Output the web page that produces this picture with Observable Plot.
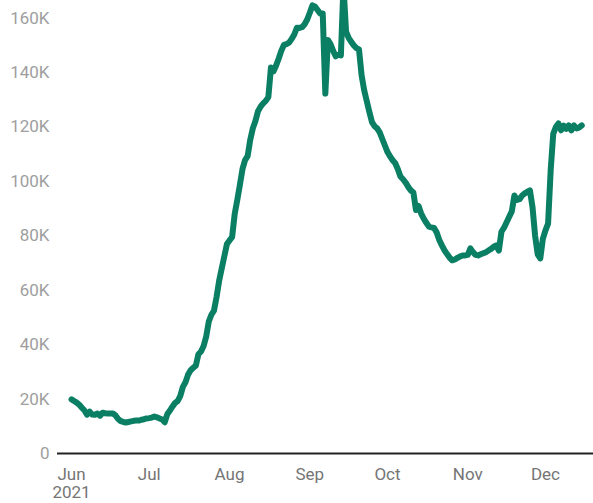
<!DOCTYPE html>
<html>
<head>
<meta charset="utf-8">
<script src="https://cdn.jsdelivr.net/npm/d3@7"></script>
<script src="https://cdn.jsdelivr.net/npm/@observablehq/plot@0.6"></script>
<style>
  html, body { margin: 0; padding: 0; background: #fff; }
  #chart { width: 593px; height: 503px; }
</style>
</head>
<body>
<div id="chart"></div>
<script>
// Daily values (thousands), one per day starting 2021-06-01
const startDate = "2021-06-01";
const junValues = [19.9, 19.3, 18.7, 17.9, 16.8, 15.8, 14.3, 15.4, 14.3, 14.2, 14.7, 13.9, 15.0, 14.8, 14.7, 14.7, 14.7, 14.0, 12.7, 11.9, 11.6, 11.4, 11.6, 11.8, 12.0, 12.1, 12.1, 12.4, 12.6, 12.9];
const julValues = [13.0, 13.2, 13.6, 13.3, 12.9, 12.5, 11.5, 14.5, 15.8, 17.3, 18.6, 19.3, 21.2, 24.5, 26.2, 29.0, 30.6, 31.5, 32.3, 36.5, 37.5, 39.5, 43.0, 48.5, 51.0, 52.5, 57.5, 63.5, 68.0, 72.5, 77.0];
const augValues = [78.3, 79.5, 88.0, 93.2, 98.7, 104.5, 107.8, 109.3, 115.3, 119.5, 122.2, 125.8, 127.5, 128.7, 129.6, 131.0, 141.9, 140.5, 142.6, 145.2, 148.0, 150.2, 150.5, 151.0, 152.4, 154.0, 156.5, 156.4, 156.7, 157.8, 159.5];
const sepValues = [162.0, 164.7, 164.3, 163.0, 161.7, 161.7, 132.3, 152.0, 150.5, 148.0, 146.0, 146.6, 146.3, 172.0, 155.0, 152.8, 151.3, 150.0, 149.0, 148.5, 139.0, 133.5, 129.5, 125.5, 121.8, 120.3, 119.5, 118.0, 115.6, 113.2];
const octValues = [110.8, 109.2, 107.8, 106.7, 104.5, 101.8, 100.8, 99.6, 98.0, 96.7, 95.9, 89.5, 91.0, 88.2, 86.3, 84.8, 83.4, 83.1, 82.9, 81.2, 78.5, 76.5, 74.7, 73.3, 72.0, 71.0, 71.3, 71.9, 72.4, 72.8, 72.8];
const novValues = [73.0, 75.4, 74.0, 73.0, 72.8, 73.2, 73.6, 74.0, 74.6, 75.2, 76.0, 76.5, 74.6, 81.5, 83.0, 85.0, 87.0, 89.0, 94.8, 93.2, 93.5, 94.8, 95.6, 96.2, 96.7, 90.5, 80.0, 73.2, 71.7, 79.0];
const decValues = [82.0, 84.5, 104.0, 117.5, 120.0, 121.3, 118.8, 120.5, 119.3, 120.6, 118.8, 120.6, 119.5, 119.8, 120.6];

const yTicks = [0, 20000, 40000, 60000, 80000, 100000, 120000, 140000, 160000];
const xTickDates = ["2021-06-01", "2021-07-01", "2021-08-01", "2021-09-01", "2021-10-01", "2021-11-01", "2021-12-01"];
const xTickLabels = ["Jun\n2021", "Jul", "Aug", "Sep", "Oct", "Nov", "Dec"];

const allValues = [...junValues, ...julValues, ...augValues, ...sepValues, ...octValues, ...novValues, ...decValues];
const start = new Date(startDate + "T00:00:00Z");
const data = allValues.map((v, i) => ({ date: d3.utcDay.offset(start, i), value: v * 1000 }));
const tickDates = xTickDates.map(s => new Date(s + "T00:00:00Z"));

const chart = Plot.plot({
  width: 593,
  height: 503,
  marginLeft: 57,
  marginRight: 0,
  marginTop: 0,
  marginBottom: 50,
  style: { fontFamily: "Roboto, sans-serif", fontSize: "17px", background: "#fff" },
  x: { type: "utc", domain: [new Date("2021-05-26T14:00:00Z"), new Date("2021-12-19T13:00:00Z")] },
  y: { domain: [0, 166500] },
  marks: [
    Plot.axisY({
      ticks: yTicks,
      tickSize: 0,
      tickPadding: 8,
      tickFormat: d => d === 0 ? "0" : (d / 1000) + "K",
      label: null,
      color: "#9e9e9e"
    }),
    Plot.axisX({
      ticks: tickDates,
      tickSize: 0,
      tickPadding: 13,
      tickFormat: (d, i) => xTickLabels[i],
      label: null,
      lineHeight: 1.1,
      color: "#757575"
    }),
    Plot.ruleY([0], { stroke: "#222", strokeWidth: 2 }),
    Plot.lineY(data, {
      x: "date",
      y: "value",
      stroke: "#0b7f64",
      strokeWidth: 6,
      strokeLinejoin: "round",
      strokeLinecap: "round",
      clip: true
    })
  ]
});
document.getElementById("chart").appendChild(chart);
</script>
</body>
</html>
